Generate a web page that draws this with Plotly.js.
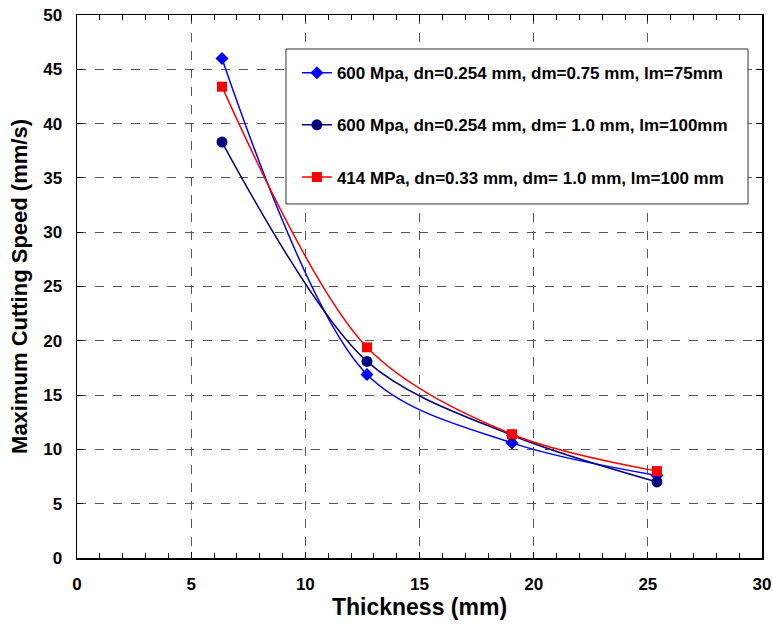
<!DOCTYPE html>
<html>
<head>
<meta charset="utf-8">
<script src="https://cdn.plot.ly/plotly-3.0.1.min.js"></script>
<style>html,body{margin:0;padding:0;background:#fff;}#chart{width:772px;height:631px;}</style>
</head>
<body>
<div id="chart"></div>
<script>
const thickness = [6.35, 12.7, 19.05, 25.4];
const speedA = [46.0, 16.9, 10.6, 7.6];
const speedB = [38.3, 18.1, 11.3, 7.0];
const speedC = [43.4, 19.4, 11.4, 8.0];
const names = [
  "600 Mpa, dn=0.254 mm, dm=0.75 mm, lm=75mm",
  "600 Mpa, dn=0.254 mm, dm= 1.0 mm, lm=100mm",
  "414 MPa, dn=0.33 mm, dm= 1.0 mm, lm=100 mm"
];
const xTicks = [0, 5, 10, 15, 20, 25, 30];
const yTicks = [0, 5, 10, 15, 20, 25, 30, 35, 40, 45, 50];

const font = "Liberation Sans, Arial, sans-serif";

const traces = [
  {x: thickness, y: speedA, name: names[0], legendgroup: "a", mode: "lines+markers",
   line: {color: "#0000FF", width: 1.5, shape: "spline", smoothing: 0.9},
   marker: {symbol: "diamond", size: 10, color: "#0000FF"}},
  {x: thickness, y: speedB, name: names[1], legendgroup: "b", mode: "lines+markers",
   line: {color: "#000080", width: 1.5, shape: "spline", smoothing: 0.9},
   marker: {symbol: "circle", size: 11, color: "#000080"}},
  {x: thickness, y: speedC, name: names[2], legendgroup: "c", mode: "lines+markers",
   line: {color: "#FF0000", width: 1.5, shape: "spline", smoothing: 0.9},
   marker: {symbol: "square", size: 10, color: "#FF0000"}}
];

const layout = {
  width: 772, height: 631,
  margin: {l: 77, r: 10, t: 15, b: 73},
  paper_bgcolor: "#fff", plot_bgcolor: "#fff",
  font: {family: font, color: "#000"},
  showlegend: true,
  shapes: [{
    type: "rect", xref: "paper", yref: "paper", layer: "above",
    x0: 0.3051, x1: 0.9796, y0: 0.652, y1: 0.9374,
    fillcolor: "#fff", line: {color: "#333", width: 1}
  }],
  legend: {
    x: 0.321, y: 0.926, xanchor: "left", yanchor: "top",
    bgcolor: "rgba(0,0,0,0)", borderwidth: 0,
    font: {family: font, size: 17, color: "#000", weight: "bold"},
    tracegroupgap: 27, traceorder: "grouped"
  },
  xaxis: {
    range: [0, 30], tickvals: xTicks, ticktext: xTicks.map(String),
    showline: true, linecolor: "#000", linewidth: 1.5, mirror: "ticks",
    ticks: "inside", ticklen: 6, tickcolor: "#000",
    minor: {dtick: 1, ticks: "inside", ticklen: 5, tickcolor: "#000", showgrid: false},
    showgrid: true, gridcolor: "#555", griddash: "dash", gridwidth: 1,
    zeroline: false, ticklabelstandoff: 10,
    tickfont: {family: font, size: 17, weight: "bold"},
    title: {text: "Thickness (mm)", font: {family: font, size: 23, weight: "bold"}, standoff: 6}
  },
  yaxis: {
    range: [0, 50], tickvals: yTicks, ticktext: yTicks.map(String),
    showline: true, linecolor: "#000", linewidth: 1.5, mirror: "ticks",
    ticks: "inside", ticklen: 6, tickcolor: "#000",
    showgrid: true, gridcolor: "#555", griddash: "dash", gridwidth: 1,
    zeroline: false, ticklabelstandoff: 10,
    tickfont: {family: font, size: 17, weight: "bold"},
    title: {text: "Maximum Cutting Speed (mm/s)", font: {family: font, size: 22, weight: "bold"}, standoff: 9}
  }
};

Plotly.newPlot("chart", traces, layout, {displayModeBar: false, staticPlot: true});
</script>
</body>
</html>
